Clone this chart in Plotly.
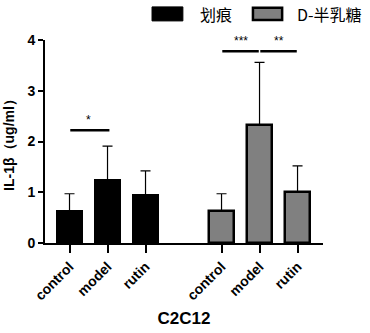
import plotly.graph_objects as go

categories = ["control", "model", "rutin"]
groups = ["划痕", "D-半乳糖"]
scratch_mean = [0.64, 1.24, 0.94]
scratch_err = [0.33, 0.67, 0.48]
dgal_mean = [0.63, 2.33, 1.01]
dgal_err = [0.34, 1.23, 0.51]
pos_scratch = [0, 1, 2]
pos_dgal = [4, 5, 6]
tick_vals = pos_scratch + pos_dgal
tick_text = categories + categories
y_ticks = [0, 1, 2, 3, 4]
sig_lines = [  # (x0, x1, y, label)
    (0, 1, 2.22, "*"),
    (4, 5, 3.78, "***"),
    (5, 6, 3.78, "**"),
]

FONT = "Liberation Sans, Arial, sans-serif"
CJK = "Noto Sans CJK SC, sans-serif"

fig = go.Figure()
fig.add_trace(go.Bar(
    x=pos_scratch, y=scratch_mean, width=0.66,
    marker=dict(color="black", line=dict(color="black", width=2)),
    error_y=dict(type="data", array=scratch_err, arrayminus=[0]*3, symmetric=False,
                 color="black", thickness=1.2, width=5),
    showlegend=False, hoverinfo="skip",
))
fig.add_trace(go.Bar(
    x=pos_dgal, y=dgal_mean, width=0.66,
    marker=dict(color="#808080", line=dict(color="black", width=2.5)),
    error_y=dict(type="data", array=dgal_err, arrayminus=[0]*3, symmetric=False,
                 color="black", thickness=1.2, width=5),
    showlegend=False, hoverinfo="skip",
))

for x0, x1, y, lab in sig_lines:
    fig.add_shape(type="line", xref="x", yref="y", x0=x0 + 0.02, x1=x1 - 0.02 if lab != "*" else x1 + 0.05,
                  y0=y, y1=y, line=dict(color="black", width=2.5))
    fig.add_annotation(x=(x0 + x1) / 2, y=y, xref="x", yref="y", text=lab,
                       showarrow=False, yshift=10, font=dict(family=FONT, size=12, color="black"))

# legend drawn manually
fig.add_shape(type="rect", xref="paper", yref="paper", x0=0.385, x1=0.496, y0=1.094, y1=1.163,
              fillcolor="black", line=dict(color="black", width=1))
fig.add_annotation(xref="paper", yref="paper", x=0.555, y=1.13, text=groups[0], showarrow=False,
                   xanchor="left", yanchor="middle", borderpad=0,
                   font=dict(family=CJK, size=16, color="black"))
fig.add_shape(type="rect", xref="paper", yref="paper", x0=0.748, x1=0.853, y0=1.098, y1=1.159,
              fillcolor="#808080", line=dict(color="black", width=2.5))
fig.add_annotation(xref="paper", yref="paper", x=0.903, y=1.13, text=groups[1], showarrow=False,
                   xanchor="left", yanchor="middle", borderpad=0,
                   font=dict(family=CJK, size=16, color="black"))

fig.update_layout(
    width=370, height=333,
    margin=dict(l=45, r=47, t=40, b=90),
    plot_bgcolor="white", paper_bgcolor="white",
    bargap=0,
    xaxis=dict(
        automargin=False,
        range=[-0.645, 6.67], tickmode="array", tickvals=tick_vals, ticktext=tick_text,
        tickangle=-45, ticks="outside", ticklen=8, tickwidth=2, tickcolor="black",
        showline=True, linecolor="black", linewidth=2, showgrid=False, zeroline=False,
        tickfont=dict(family=FONT, size=14, color="black", weight="bold"),
        title=dict(text="<b>C2C12</b>", font=dict(family=FONT, size=17, color="black"), standoff=10),
    ),
    yaxis=dict(
        automargin=False,
        range=[0, 4], tickmode="array", tickvals=y_ticks,
        ticks="outside", ticklen=5, tickwidth=2, tickcolor="black",
        showline=True, linecolor="black", linewidth=2, showgrid=False, zeroline=False,
        tickfont=dict(family=FONT, size=14, color="black", weight="bold"),
        title=dict(text="<b>IL-1β（ug/ml）</b>", font=dict(family=FONT, size=14, color="black"), standoff=10),
    ),
)

fig.write_html("out.html", config={"displayModeBar": False},
               post_script="document.body.style.margin='0';")
